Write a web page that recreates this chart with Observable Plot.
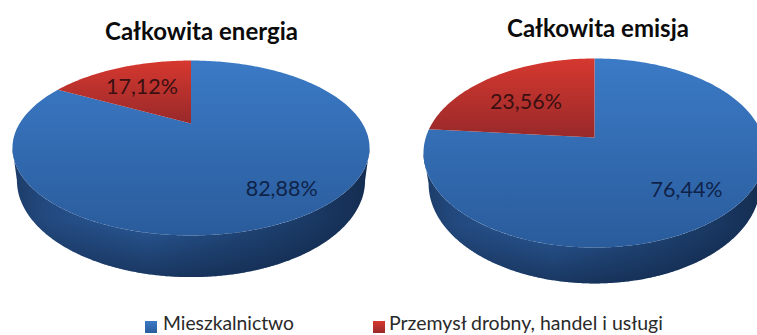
<!DOCTYPE html>
<html lang="pl">
<head>
<meta charset="utf-8">
<script src="https://cdn.jsdelivr.net/npm/d3@7"></script>
<script src="https://cdn.jsdelivr.net/npm/@observablehq/plot@0.6"></script>
<style>
  html, body { margin: 0; background: #fff; overflow: hidden; }
  #page { position: relative; width: 757px; height: 335px; overflow: hidden; font-family: Lato, sans-serif; }
  .pie { position: absolute; top: 0; }
  .pie svg { display: block; }
  .title { position: absolute; transform: translate(-50%, -50%); font-weight: 700; font-size: 24px; color: #0b0b0b; white-space: nowrap; }
  .key { position: absolute; top: 321px; height: 12px; color: #2a2a2a; white-space: nowrap; }
  .key i { position: absolute; left: 0; top: 0; width: 12px; height: 12px; }
  .key span { position: absolute; top: -10px; line-height: 24px; }
  .key.narrow { font-size: 19.3px; }
  .key.narrow span { left: 18px; }
  .key.wide { font-size: 19.5px; }
  .key.wide span { left: 16px; }
</style>
</head>
<body>
<div id="page"></div>
<script>
const categories = ["Mieszkalnictwo", "Przemysł drobny, handel i usługi"];
const energia = [82.88, 17.12];
const emisja = [76.44, 23.56];
const titles = ["Całkowita energia", "Całkowita emisja"];

const palette = {
  blue: ["#3b7ac6", "#2a5c9c"],
  red: ["#d6382f", "#98292a"],
  ink: ["#0f2349", "#3a1012"]
};

// Perspective tilt of each disc: p is the foreshortening, cx/cy the apex of the wedges.
const views = [
  {id: "a", left: 0, width: 385, cx: 190.5, cy: 123, R: 171.4, S: 80.6, p: 0.28, D: 30, shrink: 0.975, title: [201.5, 30], labelR: [0.82, 0.6], labelShift: [[1, -5], [-3, 0]]},
  {id: "b", left: 385, width: 372, cx: 209, cy: 137, R: 168.7, S: 92, p: 0.164, D: 30, shrink: 0.97, title: [598, 27], labelR: [0.73, 0.63], labelShift: [[1, -2], [-2, 4]]}
];

const rad = (turn) => turn * 2 * Math.PI;

function project(view, r, turn, lowered = false) {
  const u = r * Math.sin(rad(turn));
  const v = -r * Math.cos(rad(turn));
  const w = 1 - view.p * v;
  const k = lowered ? view.shrink : 1;
  return {
    x: (view.R * u / w) * k,
    y: view.S * v / w + (lowered ? view.D / w : 0)
  };
}

function wedge(view, start, end) {
  const steps = Math.max(2, Math.ceil((end - start) * 360));
  const rim = d3.range(steps + 1).map((i) => project(view, 1, start + (end - start) * i / steps));
  return [project(view, 0, 0), ...rim];
}

// Outline of the visible wall: front half of the top rim, back along the lowered rim.
function wall(view) {
  const t0 = Math.acos(-view.p) / (2 * Math.PI);
  const t1 = 1 - t0;
  const turns = d3.range(0, 361).map((i) => t0 + (t1 - t0) * i / 360);
  return [
    ...turns.map((t) => project(view, 1, t)),
    ...turns.slice().reverse().map((t) => project(view, 1, t, true))
  ];
}

function gradients(view) {
  const defs = d3.create("svg:defs");
  const linear = (name, x2, y2, stops) => {
    const g = defs.append("linearGradient").attr("id", view.id + name)
      .attr("x1", 0).attr("y1", 0).attr("x2", x2).attr("y2", y2);
    stops.forEach(([o, c, a]) => g.append("stop").attr("offset", o).attr("stop-color", c).attr("stop-opacity", a ?? 1));
  };
  linear("blue", 0, 1, [[0, palette.blue[0]], [1, palette.blue[1]]]);
  linear("red", 0, 1, [[0, palette.red[0]], [1, palette.red[1]]]);
  linear("side", 1, 0, [[0, "#1c3c68"], [0.1, "#234a80"], [0.38, "#2a5a98"], [0.7, "#1f4475"], [1, "#142c50"]]);
  linear("shade", 0, 1, [[0.55, "#0e1f3c", 0], [1, "#0e1f3c", 0.6]]);
  return defs.node();
}

function drawPie(view, values) {
  const total = d3.sum(values);
  const fractions = values.map((d) => d / total);
  const starts = d3.cumsum([0, ...fractions]);
  const labels = values.map((d, i) => {
    const mid = starts[i] + fractions[i] / 2;
    const at = project(view, view.labelR[i], mid);
    return {x: at.x + view.labelShift[i][0], y: at.y + view.labelShift[i][1], text: d.toFixed(2).replace(".", ",") + "%", color: palette.ink[i]};
  });
  const height = 295;
  const sideShape = wall(view);
  return Plot.plot({
    width: view.width,
    height,
    margin: 0,
    x: {domain: [-view.cx, view.width - view.cx], range: [0, view.width], axis: null},
    y: {domain: [-view.cy, height - view.cy], range: [0, height], axis: null},
    marks: [
      () => gradients(view),
      Plot.line(sideShape, {x: "x", y: "y", fill: `url(#${view.id}side)`, stroke: "none"}),
      Plot.line(sideShape, {x: "x", y: "y", fill: `url(#${view.id}shade)`, stroke: "none"}),
      Plot.line(wedge(view, starts[0], starts[1]), {x: "x", y: "y", fill: `url(#${view.id}blue)`, stroke: "none"}),
      Plot.line(wedge(view, starts[1], starts[2]), {x: "x", y: "y", fill: `url(#${view.id}red)`, stroke: "none"}),
      Plot.text(labels, {x: "x", y: "y", text: "text", fill: "color", fontSize: 21.5, fontFamily: "Lato, sans-serif"})
    ]
  });
}

const page = document.getElementById("page");

[energia, emisja].forEach((values, i) => {
  const view = views[i];
  const holder = document.createElement("div");
  holder.className = "pie";
  holder.style.left = view.left + "px";
  holder.appendChild(drawPie(view, values));
  page.appendChild(holder);

  const title = document.createElement("div");
  title.className = "title";
  title.style.left = view.title[0] + "px";
  title.style.top = view.title[1] + "px";
  title.textContent = titles[i];
  page.appendChild(title);
});

[[145, palette.blue, "narrow"], [373, palette.red, "wide"]].forEach(([left, colors, size], i) => {
  const key = document.createElement("div");
  key.className = "key " + size;
  key.style.left = left + "px";
  const swatch = document.createElement("i");
  swatch.style.background = `linear-gradient(${colors[0]}, ${colors[1]})`;
  const name = document.createElement("span");
  name.textContent = categories[i];
  key.append(swatch, name);
  page.appendChild(key);
});
</script>
</body>
</html>
